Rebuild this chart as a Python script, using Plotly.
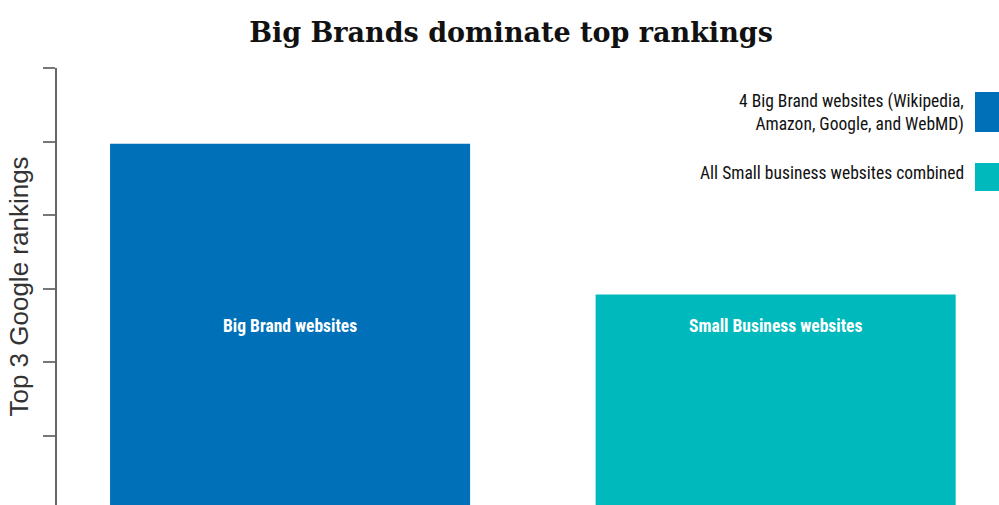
import plotly.graph_objects as go

# Data
categories = ["Big Brand websites", "Small Business websites"]
rankings = [4.97, 2.92]
series_names = ["4 Big Brand websites (Wikipedia,<br>Amazon, Google, and WebMD)",
                "All Small business websites combined"]
colors = ["#0071B9", "#00B9BD"]
y_ticks = [0, 1, 2, 3, 4, 5, 6]

W, H = 999, 505
L, R, T, B = 57, 0, 68, 0
PW, PH = W - L - R, H - T - B


def px(x):
    return (x - L) / PW


def py(y):
    return (H - B - y) / PH


fig = go.Figure()
fig.add_trace(go.Bar(
    x=[0, 1],
    y=rankings,
    width=0.7415,
    marker=dict(color=colors, line=dict(width=0)),
    hoverinfo="skip",
    showlegend=False,
))

label_font = "Roboto Condensed, Liberation Sans Narrow, Arial Narrow, sans-serif"

# Category labels inside the bars, on a common baseline
for i, cat in enumerate(categories):
    fig.add_annotation(
        x=i, xref="x", y=py(326), yref="paper",
        text=f"<b>{cat}</b>", showarrow=False,
        xanchor="center", yanchor="middle",
        font=dict(family=label_font, size=17.5, color="white"),
    )

fig.update_layout(
    width=W, height=H,
    margin=dict(l=L, r=R, t=T, b=B, pad=0),
    paper_bgcolor="white",
    plot_bgcolor="white",
    showlegend=False,
    title=dict(
        text="<b>Big Brands dominate top rankings</b>",
        x=511 / W, xanchor="center", y=1 - 33 / H, yanchor="middle",
        xref="container", yref="container",
        font=dict(family="DejaVu Serif, serif", size=27, color="#111"),
    ),
    xaxis=dict(
        range=[-0.48, 1.46],
        showticklabels=False, ticks="", showgrid=False, zeroline=False,
        showline=True, linecolor="#e2e2e2", linewidth=3,
    ),
    yaxis=dict(
        range=[0.06, 6.0],
        tickvals=y_ticks, showticklabels=False,
        ticks="outside", ticklen=12, tickcolor="#777", tickwidth=1.5,
        showgrid=False, zeroline=False,
        showline=True, linecolor="#666", linewidth=1.5,
        title=dict(text="Top 3 Google rankings", standoff=7,
                   font=dict(family="Liberation Sans, Arial, sans-serif", size=26, color="#333")),
    ),
)

# Legend: labels on the left, colour swatches at the right edge
legend_rows = [(113, 92, 132), (173, 163, 191)]
for name, color, (yc, y0, y1) in zip(series_names, colors, legend_rows):
    fig.add_annotation(
        x=px(966), y=py(yc), xref="paper", yref="paper",
        xanchor="right", yanchor="middle", align="right",
        text=name, showarrow=False,
        font=dict(family=label_font, size=17.5, color="#111"),
    )
    fig.add_shape(
        type="rect", xref="paper", yref="paper",
        x0=px(975), x1=px(1010), y0=py(y1), y1=py(y0),
        fillcolor=color, line=dict(width=0),
    )

fig.write_html("out.html")
